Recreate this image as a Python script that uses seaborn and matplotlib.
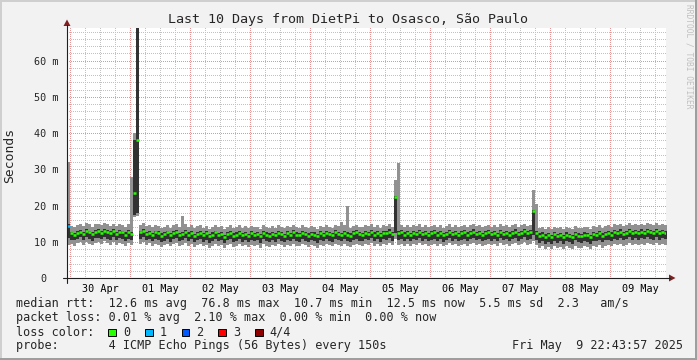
import numpy as np
import pandas as pd
import matplotlib
matplotlib.use("Agg")
import matplotlib.pyplot as plt
import seaborn as sns
from matplotlib.lines import Line2D
from matplotlib.patches import Rectangle, Polygon
from matplotlib.colors import to_rgba

# ---------------- data (ms), one value per 1.2 h bin, first bin starts Apr 29 22:48 ----------------
median = [
14.4, 12.3, 11.9, 12.5, 12.8, 12.2, 13.0, 12.6, 12.1, 12.8, 12.9, 12.4, 13.1, 12.7, 12.3, 12.9, 12.2, 12.8, 12.6, 12.0,
12.7, 12.1, 23.4, 38.0, 12.6, 13.0, 12.2, 12.5, 11.9, 12.6, 12.3, 11.7, 12.1, 12.6, 11.8, 12.4, 12.8, 11.9, 12.2, 12.7,
12.0, 12.4, 11.6, 12.2, 12.5, 11.8, 12.3, 11.5, 12.0, 12.6, 11.9, 12.2, 11.4, 12.1, 12.4, 11.7, 12.0, 12.5, 11.8, 12.2,
11.6, 12.3, 11.9, 12.1, 11.5, 12.4, 12.0, 11.7, 12.2, 11.8, 12.5, 12.1, 11.6, 12.3, 11.9, 12.6, 12.0, 11.8, 12.4, 12.1,
11.7, 12.2, 12.0, 11.5, 12.3, 11.9, 12.4, 12.1, 11.8, 12.6, 12.2, 11.9, 12.5, 12.0, 11.7, 12.3, 12.6, 12.1, 11.9, 12.4,
12.2, 12.7, 12.0, 12.4, 11.8, 12.5, 12.3, 12.8, 12.1, 22.4, 12.3, 12.6, 12.0, 12.4, 11.9, 12.5, 12.2, 12.7, 12.1, 12.4,
11.9, 12.3, 12.6, 12.0, 12.4, 11.8, 12.2, 12.7, 12.1, 12.5, 11.9, 12.3, 12.6, 12.0, 12.4, 12.8, 12.2, 12.5, 11.9, 12.3,
12.6, 12.1, 12.4, 11.9, 12.7, 12.2, 12.5, 12.0, 12.4, 12.8, 12.1, 12.5, 12.9, 12.3, 12.6, 18.5, 12.4, 11.6, 12.0, 11.4,
11.8, 11.2, 12.1, 11.5, 11.9, 11.3, 12.0, 11.6, 11.4, 12.2, 11.7, 11.5, 12.0, 11.8, 11.3, 12.1, 11.9, 12.3, 11.7, 12.2,
12.4, 12.0, 12.6, 12.3, 12.8, 12.2, 12.5, 12.9, 12.4, 12.7, 12.3, 12.8, 12.5, 13.0, 12.6, 12.4, 12.9, 12.3, 12.7, 12.5,
]
inner_lo = [
11.0, 10.6, 10.4, 10.8, 11.2, 10.5, 11.3, 10.9, 10.3, 11.1, 11.0, 10.7, 11.4, 10.8, 10.6, 11.2, 10.4, 11.0, 10.9, 10.2,
10.9, 10.5, 17.5, 18.0, 10.8, 11.2, 10.4, 10.9, 10.1, 10.8, 10.6, 9.9, 10.3, 10.9, 10.0, 10.7, 11.0, 10.2, 10.5, 11.0,
10.2, 10.7, 9.8, 10.5, 10.8, 10.0, 10.6, 9.7, 10.3, 10.9, 10.1, 10.4, 9.6, 10.4, 10.7, 9.9, 10.2, 10.8, 10.0, 10.5,
9.8, 10.6, 10.1, 10.4, 9.7, 10.7, 10.2, 9.9, 10.5, 10.0, 10.8, 10.3, 9.8, 10.6, 10.1, 10.9, 10.2, 10.0, 10.7, 10.3,
9.9, 10.5, 10.2, 9.7, 10.6, 10.1, 10.7, 10.3, 10.0, 10.9, 10.4, 10.1, 10.8, 10.2, 9.9, 10.6, 10.9, 10.3, 10.1, 10.7,
10.4, 11.0, 10.2, 10.7, 10.0, 10.8, 10.5, 11.1, 10.3, 12.5, 10.6, 10.9, 10.2, 10.7, 10.1, 10.8, 10.4, 11.0, 10.3, 10.7,
10.1, 10.6, 10.9, 10.2, 10.7, 10.0, 10.5, 11.0, 10.3, 10.8, 10.1, 10.6, 10.9, 10.2, 10.7, 11.1, 10.4, 10.8, 10.1, 10.6,
10.9, 10.3, 10.7, 10.1, 11.0, 10.4, 10.8, 10.2, 10.7, 11.1, 10.3, 10.8, 11.2, 10.5, 10.9, 12.0, 10.5, 9.7, 10.2, 9.5,
10.0, 9.3, 10.3, 9.6, 10.1, 9.4, 10.2, 9.8, 9.5, 10.4, 9.9, 9.6, 10.2, 10.0, 9.4, 10.3, 10.1, 10.5, 9.9, 10.4,
10.6, 10.2, 10.9, 10.5, 11.1, 10.4, 10.8, 11.2, 10.6, 11.0, 10.5, 11.1, 10.7, 11.3, 10.9, 10.6, 11.2, 10.5, 11.0, 10.8,
]
inner_hi = [
15.0, 12.8, 12.5, 13.0, 13.3, 12.8, 13.5, 13.1, 12.7, 13.3, 13.4, 12.9, 13.6, 13.2, 12.9, 13.4, 12.8, 13.3, 13.1, 12.6,
13.2, 12.7, 38.0, 76.8, 13.1, 13.5, 12.8, 13.0, 12.5, 13.1, 12.9, 12.3, 12.7, 13.1, 12.4, 13.0, 13.3, 12.5, 12.8, 13.2,
12.6, 13.0, 12.2, 12.8, 13.0, 12.4, 12.9, 12.1, 12.6, 13.1, 12.5, 12.8, 12.0, 12.7, 13.0, 12.3, 12.6, 13.0, 12.4, 12.8,
12.2, 12.9, 12.5, 12.7, 12.1, 13.0, 12.6, 12.3, 12.8, 12.4, 13.1, 12.7, 12.2, 12.9, 12.5, 13.2, 12.6, 12.4, 13.0, 12.7,
12.3, 12.8, 12.6, 12.1, 12.9, 12.5, 13.0, 12.7, 12.4, 13.2, 12.8, 12.5, 13.1, 12.6, 12.3, 12.9, 13.2, 12.7, 12.5, 13.0,
12.8, 13.3, 12.6, 13.0, 12.4, 13.1, 12.9, 13.4, 12.7, 22.6, 12.9, 13.2, 12.6, 13.0, 12.5, 13.1, 12.8, 13.3, 12.7, 13.0,
12.5, 12.9, 13.2, 12.6, 13.0, 12.4, 12.8, 13.3, 12.7, 13.1, 12.5, 12.9, 13.2, 12.6, 13.0, 13.4, 12.8, 13.1, 12.5, 12.9,
13.2, 12.7, 13.0, 12.5, 13.3, 12.8, 13.1, 12.6, 13.0, 13.4, 12.7, 13.1, 13.5, 12.9, 13.2, 18.8, 13.0, 12.3, 12.6, 12.1,
12.4, 11.9, 12.7, 12.1, 12.5, 11.9, 12.6, 12.2, 12.0, 12.8, 12.3, 12.1, 12.6, 12.4, 11.9, 12.7, 12.5, 12.9, 12.3, 12.8,
13.0, 12.6, 13.2, 12.9, 13.4, 12.8, 13.1, 13.5, 13.0, 13.3, 12.9, 13.4, 13.1, 13.6, 13.2, 13.0, 13.5, 12.9, 13.3, 13.1,
]
outer_lo = [
9.0, 9.4, 8.9, 9.6, 9.8, 9.2, 10.0, 9.5, 9.1, 9.7, 9.9, 9.3, 10.1, 9.6, 9.2, 9.8, 9.0, 9.7, 9.4, 8.9,
9.6, 9.2, 16.8, 17.2, 9.5, 9.9, 9.1, 9.6, 8.8, 9.4, 9.2, 8.6, 9.0, 9.5, 8.7, 9.3, 9.7, 8.8, 9.1, 9.6,
8.9, 9.3, 8.5, 9.1, 9.4, 8.7, 9.2, 8.4, 8.9, 9.5, 8.8, 9.1, 8.3, 9.0, 9.3, 8.6, 8.9, 9.4, 8.7, 9.1,
8.5, 9.2, 8.8, 9.0, 8.4, 9.3, 8.9, 8.6, 9.1, 8.7, 9.4, 9.0, 8.5, 9.2, 8.8, 9.5, 8.9, 8.7, 9.3, 9.0,
8.6, 9.1, 8.9, 8.4, 9.2, 8.8, 9.3, 9.0, 8.7, 9.5, 9.1, 8.8, 9.4, 8.9, 8.6, 9.2, 9.5, 9.0, 8.8, 9.3,
9.1, 9.6, 8.9, 9.3, 8.7, 9.4, 9.2, 9.7, 9.0, 10.8, 9.2, 9.5, 8.9, 9.3, 8.8, 9.4, 9.1, 9.6, 9.0, 9.3,
8.8, 9.2, 9.5, 8.9, 9.3, 8.7, 9.1, 9.6, 9.0, 9.4, 8.8, 9.2, 9.5, 8.9, 9.3, 9.7, 9.1, 9.4, 8.8, 9.2,
9.5, 9.0, 9.3, 8.8, 9.6, 9.1, 9.4, 8.9, 9.3, 9.7, 9.0, 9.4, 9.8, 9.2, 9.5, 10.2, 9.1, 8.3, 8.7, 8.1,
8.5, 7.9, 8.8, 8.2, 8.6, 8.0, 8.7, 8.3, 8.1, 8.9, 8.4, 8.2, 8.7, 8.5, 8.0, 8.8, 8.6, 9.0, 8.4, 8.9,
9.1, 8.7, 9.3, 9.0, 9.5, 8.9, 9.2, 9.6, 9.1, 9.4, 9.0, 9.5, 9.2, 9.7, 9.3, 9.1, 9.6, 9.0, 9.4, 9.2,
]
outer_hi = [
32.0, 14.4, 14.0, 14.7, 15.0, 14.3, 15.1, 14.8, 14.2, 14.9, 15.0, 14.5, 15.2, 14.8, 14.4, 15.0, 14.3, 14.9, 14.7, 14.1,
14.8, 28.0, 40.0, 76.8, 14.7, 15.1, 14.3, 14.6, 14.0, 14.7, 14.4, 13.8, 14.2, 14.7, 13.9, 14.5, 14.9, 14.0, 17.0, 14.8,
14.1, 14.5, 13.7, 14.3, 14.6, 13.9, 14.4, 13.6, 14.1, 14.7, 14.0, 14.3, 13.5, 14.2, 14.5, 13.8, 14.1, 14.6, 13.9, 14.3,
13.7, 14.4, 14.0, 14.2, 13.6, 14.5, 14.1, 13.8, 14.3, 13.9, 14.6, 14.2, 13.7, 14.4, 14.0, 14.7, 14.1, 13.9, 14.5, 14.2,
13.8, 14.3, 14.1, 13.6, 14.4, 14.0, 14.5, 14.2, 13.9, 14.7, 14.3, 15.4, 14.6, 20.0, 13.8, 14.4, 14.7, 14.2, 14.0, 14.5,
14.3, 14.8, 14.1, 14.5, 13.9, 14.6, 14.4, 14.9, 14.2, 27.0, 31.7, 14.7, 14.1, 14.5, 14.0, 14.6, 14.3, 14.8, 14.2, 14.5,
14.0, 14.4, 14.7, 14.1, 14.5, 13.9, 14.3, 14.8, 14.2, 14.6, 14.0, 14.4, 14.7, 14.1, 14.5, 14.9, 14.3, 14.6, 14.0, 14.4,
14.7, 14.2, 14.5, 14.0, 14.8, 14.3, 14.6, 14.1, 14.5, 14.9, 14.2, 14.6, 15.0, 14.4, 14.7, 24.3, 20.5, 13.8, 14.1, 13.6,
14.0, 13.4, 14.2, 13.7, 14.1, 13.5, 14.2, 13.8, 13.6, 14.4, 13.9, 13.7, 14.2, 14.0, 13.5, 14.3, 14.1, 14.5, 13.9, 14.4,
14.6, 14.2, 14.8, 14.5, 15.0, 14.4, 14.7, 15.1, 14.6, 14.9, 14.5, 15.0, 14.7, 15.2, 14.8, 14.6, 15.1, 14.5, 14.9, 14.7,
]
loss_by_bin = {0: "1"}            # bins with lost pings (others: 0 lost)
day_labels = ["30 Apr", "01 May", "02 May", "03 May", "04 May",
              "05 May", "06 May", "07 May", "08 May", "09 May"]
y_ticks = [0, 10, 20, 30, 40, 50, 60]
y_labels = ["0  ", "10 m", "20 m", "30 m", "40 m", "50 m", "60 m"]
loss_names = ["0", "1", "2", "3", "4/4"]
loss_colors = ["#26ff00", "#00b8ff", "#0059ff", "#ff0000", "#8e0000"]
rtt_avg, rtt_max, rtt_min, rtt_now, rtt_sd, rtt_ams = "12.6", "76.8", "10.7", "12.5", "5.5", "2.3"
loss_avg, loss_max, loss_min, loss_now = "0.01", "2.10", "0.00", "0.00"
title = "Last 10 Days from DietPi to Osasco, São Paulo"
probe = "4 ICMP Echo Pings (56 Bytes) every 150s"
stamp = "Fri May  9 22:43:57 2025"

# ---------------- figure ----------------
W, H = 697, 360
sns.set_style("white")
plt.rcParams['font.family'] = ['DejaVu Sans Mono', 'DejaVu Sans']
MONO = ['DejaVu Sans Mono', 'DejaVu Sans']

fig = plt.figure(figsize=(W / 100, H / 100), dpi=100, facecolor="#f2f2f2")
fx = lambda p: p / W
fy = lambda p: 1 - p / H

X0, X1, Y0, Y1 = 67, 666, 278, 28          # plot canvas in pixels
PW, PH = X1 - X0, Y0 - Y1
XMIN, PX_PER_DAY = -0.05, 60.0
XMAX = XMIN + PW / PX_PER_DAY
YMAX = 69.0
ax = fig.add_axes([fx(X0), fy(Y0), PW / W, PH / H])
ax.set_facecolor("white")
for s in ax.spines.values():
    s.set_visible(False)
ax.set_xlim(XMIN, XMAX)
ax.set_ylim(0, YMAX)

# grid as a pixel-exact dotted raster (1px on / 1px off), like rrdtool
grid = np.zeros((PH, PW, 4))
minor_c = np.array(to_rgba("#c2c2c2"))
major_c = np.array(to_rgba("#e99494"))
for d in np.arange(0, 10, 0.25):
    c = int(round((d - XMIN) * PX_PER_DAY))
    if 0 <= c < PW:
        col = major_c if abs(d - round(d)) < 1e-9 else minor_c
        grid[0::2, c] = col
for v in range(2, 70, 2):
    r = int(round((YMAX - v) / YMAX * PH))
    if 0 <= r < PH:
        col = major_c if v % 10 == 0 else minor_c
        grid[r, 0::2] = col
ax.imshow(grid, extent=(XMIN, XMAX, 0, YMAX), aspect="auto", interpolation="nearest",
          zorder=0, origin="upper")

# smoke
n = len(median)
step = 0.05
t = XMIN + step * np.arange(n)
te = np.append(t, t[-1] + step)
ext = lambda a: np.append(np.asarray(a, float), a[-1])
ax.fill_between(te, ext(outer_lo), ext(outer_hi), step="post", color="#919191", lw=0, zorder=2)
ax.fill_between(te, ext(inner_lo), ext(inner_hi), step="post", color="#323232", lw=0, zorder=3)

# median coloured by loss
df = pd.DataFrame({"t": t + step / 2, "median": median,
                   "loss": [loss_by_bin.get(i, "0") for i in range(n)]})
pal = dict(zip(loss_names, loss_colors))
sns.scatterplot(data=df, x="t", y="median", hue="loss", palette=pal, marker="_",
                s=8, linewidth=1.8, legend=False, ax=ax, zorder=5)
ax.set_xlabel("")
ax.set_ylabel("")
ax.set_xlim(XMIN, XMAX)
ax.set_ylim(0, YMAX)

# ticks
ax.set_xticks(np.arange(10) + 0.5)
ax.set_xticklabels(day_labels, fontsize=7.3, family=MONO)
ax.set_xticks(np.arange(0, 10), minor=True)
ax.tick_params(axis="x", which="major", length=0, pad=4.5, colors="black")
ax.tick_params(axis="x", which="minor", length=2.2, width=0.72, color="#e06060", direction="out")
ax.set_yticks(y_ticks)
ax.set_yticklabels(y_labels, fontsize=7.3, family=MONO)
ax.set_yticks(np.arange(2, 70, 2), minor=True)
ax.tick_params(axis="y", which="major", length=2.0, width=0.72, color="#e06060", pad=3.8)
ax.tick_params(axis="y", which="minor", length=1.6, width=0.72, color="#808080")

# axes lines and arrows
fig.add_artist(Line2D([fx(X0), fx(X0)], [fy(283), fy(25)], color="#1f1f1f", lw=0.8))
fig.add_artist(Line2D([fx(63), fx(670)], [fy(Y0), fy(Y0)], color="#1f1f1f", lw=0.8))
fig.add_artist(Polygon([[fx(X0), fy(19.5)], [fx(X0 - 3.5), fy(26)], [fx(X0 + 3.5), fy(26)]],
                       closed=True, transform=fig.transFigure, color="#801f1f", lw=0))
fig.add_artist(Polygon([[fx(675.5), fy(Y0)], [fx(669), fy(Y0 - 3.5)], [fx(669), fy(Y0 + 3.5)]],
                       closed=True, transform=fig.transFigure, color="#801f1f", lw=0))

# frame shading
fig.add_artist(Rectangle((0, fy(2)), 1, 2 / H, transform=fig.transFigure, color="#cfcfcf", lw=0))
fig.add_artist(Rectangle((0, 0), 2 / W, 1, transform=fig.transFigure, color="#cfcfcf", lw=0))
fig.add_artist(Rectangle((0, 0), 1, 2 / H, transform=fig.transFigure, color="#9e9e9e", lw=0))
fig.add_artist(Rectangle((1 - 2 / W, 0), 2 / W, 1, transform=fig.transFigure, color="#9e9e9e", lw=0))

# texts
fig.text(fx(347.5), fy(23.5), title, ha="center", va="baseline", fontsize=9.6, family=MONO)
fig.text(fx(10), fy(155), "Seconds", rotation=90, ha="center", va="center", fontsize=9.4, family=MONO)
fig.text(fx(689), fy(4), "RRDTOOL / TOBI OETIKER", rotation=270, ha="center", va="top",
         fontsize=5.7, color="#c0c0c0", family=MONO)

LX = 15.5
fs = 8.5
line1 = (f"median rtt:  {rtt_avg} ms avg  {rtt_max} ms max  {rtt_min} ms min  "
         f"{rtt_now} ms now  {rtt_sd} ms sd  {rtt_ams}   am/s")
line2 = f"packet loss: {loss_avg} % avg  {loss_max} % max  {loss_min} % min  {loss_now} % now"
fig.text(fx(LX), fy(307.5), line1, ha="left", va="baseline", fontsize=fs, family=MONO)
fig.text(fx(LX), fy(321.5), line2, ha="left", va="baseline", fontsize=fs, family=MONO)
fig.text(fx(LX), fy(335.5), "loss color:", ha="left", va="baseline", fontsize=fs, family=MONO)
for i, (nm, c) in enumerate(zip(loss_names, loss_colors)):
    sx = 108.3 + 36.7 * i
    fig.add_artist(Rectangle((fx(sx), fy(336)), 7.5 / W, 7.5 / H, transform=fig.transFigure,
                             facecolor=c, edgecolor="black", lw=0.7))
    fig.text(fx(sx + 14.5), fy(335.5), nm, ha="left", va="baseline", fontsize=fs, family=MONO)
fig.text(fx(LX), fy(349.5), "probe:       " + probe, ha="left", va="baseline", fontsize=fs, family=MONO)
fig.text(fx(512.5), fy(349.5), stamp, ha="left", va="baseline", fontsize=fs, family=MONO)

fig.savefig("out.png", dpi=100, facecolor=fig.get_facecolor())
